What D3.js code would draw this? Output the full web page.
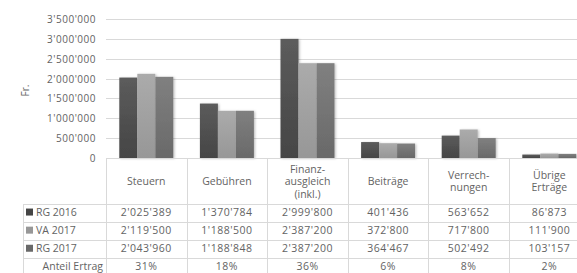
<!DOCTYPE html>
<html lang="de">
<head>
    <meta charset="UTF-8">
    <title>Ertrag</title>
    <script src="https://d3js.org/d3.v7.min.js"></script>
</head>
<body>
<div id='chart'>
    <svg></svg>
</div>
</body>

<style>
    body {
        margin: 0;
        background: #fff;
    }

    #chart {
        width: 577px;
        height: 273px;
        overflow: hidden;
    }

    text {
        font-family: 'Open Sans', sans-serif;
        fill: #636363;
    }

    text.num {
        letter-spacing: 0.5px;
    }

    line.grid, line.table {
        stroke: #d9d9d9;
        stroke-width: 1px;
        shape-rendering: crispEdges;
    }
</style>

<script>
    // Kategorien (Kopfzeile der Tabelle, mehrzeilig)
    const categories = ['Steuern', 'Gebühren', 'Finanzausgleich', 'Beiträge', 'Verrechnungen', 'Übrige Erträge'];
    const categoryLines = [
        ['Steuern'],
        ['Gebühren'],
        ['Finanz-', 'ausgleich', '(inkl.)'],
        ['Beiträge'],
        ['Verrech-', 'nungen'],
        ['Übrige', 'Erträge']
    ];

    const seriesNames = ['RG 2016', 'VA 2017', 'RG 2017'];
    const rg2016 = [2025389, 1370784, 2999800, 401436, 563652, 86873];
    const va2017 = [2119500, 1188500, 2387200, 372800, 717800, 111900];
    const rg2017 = [2043960, 1188848, 2387200, 364467, 502492, 103157];
    const anteilErtrag = ['31%', '18%', '36%', '6%', '8%', '2%'];

    const yTicks = [0, 500000, 1000000, 1500000, 2000000, 2500000, 3000000, 3500000];

    const seriesValues = [rg2016, va2017, rg2017];
    const seriesColors = [
        ['#5c5c5c', '#454545'],
        ['#ababab', '#979797'],
        ['#808080', '#696969']
    ];

    const width = 577;
    const height = 273;

    const plotLeft = 106;
    const colWidth = 80.6;
    const plotRight = plotLeft + colWidth * categories.length;
    const plotTop = 19;
    const plotBottom = 158;

    const tableLeft = 23;
    const headerBottom = 204;
    const rowHeight = 18.1;
    const fontSize = '10.5px';

    const locale = d3.formatLocale({decimal: '.', thousands: "'", grouping: [3], currency: ['', '']});
    const fmt = locale.format(',d');

    const svg = d3.select('svg')
        .attr('width', width)
        .attr('height', height);

    const defs = svg.append('defs');

    seriesColors.forEach((c, i) => {
        const grad = defs.append('linearGradient')
            .attr('id', 'grad' + i)
            .attr('x1', 0).attr('y1', 0)
            .attr('x2', 0).attr('y2', 1);
        grad.append('stop').attr('offset', '0%').attr('stop-color', c[0]);
        grad.append('stop').attr('offset', '100%').attr('stop-color', c[1]);
    });

    const filter = defs.append('filter')
        .attr('id', 'shadow')
        .attr('x', '-20%').attr('y', '-20%')
        .attr('width', '160%').attr('height', '140%');
    filter.append('feDropShadow')
        .attr('dx', 1.2).attr('dy', 0.6)
        .attr('stdDeviation', 0.8)
        .attr('flood-color', '#000')
        .attr('flood-opacity', 0.25);

    const y = d3.scaleLinear()
        .domain([0, 3500000])
        .range([plotBottom, plotTop]);

    const x0 = d3.scaleBand()
        .domain(categories)
        .range([plotLeft, plotRight])
        .padding(0);

    const x1 = d3.scaleBand()
        .domain(seriesNames)
        .range([13.3, colWidth - 13.3])
        .padding(0);

    // Gitterlinien
    svg.append('g')
        .selectAll('line')
        .data(yTicks.filter(d => d > 0))
        .join('line')
        .attr('class', 'grid')
        .attr('x1', plotLeft)
        .attr('x2', plotRight)
        .attr('y1', d => Math.round(y(d)) + 0.5)
        .attr('y2', d => Math.round(y(d)) + 0.5);

    // Y-Achse
    const yAxis = svg.append('g')
        .attr('transform', `translate(${plotLeft - 10},0)`)
        .call(d3.axisLeft(y).tickValues(yTicks).tickFormat(fmt).tickSize(0).tickPadding(0));
    yAxis.select('.domain').remove();
    yAxis.selectAll('text')
        .attr('class', 'num')
        .style('font-size', '10px')
        .attr('fill', null)
        .attr('dy', '0.35em');

    svg.append('text')
        .attr('transform', `translate(29,${(plotTop + plotBottom) / 2 + 2}) rotate(-90)`)
        .attr('text-anchor', 'middle')
        .style('font-size', '10px')
        .text('Fr.');

    // Balken
    const groups = svg.append('g')
        .selectAll('g')
        .data(categories)
        .join('g')
        .attr('transform', d => `translate(${x0(d)},0)`);

    groups.selectAll('rect')
        .data((d, i) => seriesNames.map((s, j) => ({series: s, idx: j, value: seriesValues[j][i]})))
        .join('rect')
        .attr('x', d => x1(d.series))
        .attr('width', x1.bandwidth())
        .attr('y', d => y(d.value))
        .attr('height', d => plotBottom - y(d.value))
        .attr('fill', d => `url(#grad${d.idx})`)
        .attr('filter', 'url(#shadow)');

    // Tabelle
    const table = svg.append('g');
    const nRows = seriesNames.length + 1;
    const tableBottom = headerBottom + rowHeight * (nRows + 1);

    table.append('line')
        .attr('class', 'table')
        .attr('x1', plotLeft).attr('x2', plotRight)
        .attr('y1', plotBottom + 0.5).attr('y2', plotBottom + 0.5);

    d3.range(nRows + 1).forEach(r => {
        const yy = Math.round(headerBottom + r * rowHeight) + 0.5;
        table.append('line')
            .attr('class', 'table')
            .attr('x1', tableLeft).attr('x2', plotRight)
            .attr('y1', yy).attr('y2', yy);
    });

    table.append('line')
        .attr('class', 'table')
        .attr('x1', tableLeft + 0.5).attr('x2', tableLeft + 0.5)
        .attr('y1', headerBottom).attr('y2', tableBottom);

    d3.range(categories.length + 1).forEach(c => {
        const xx = Math.round(plotLeft + c * colWidth) + 0.5;
        table.append('line')
            .attr('class', 'table')
            .attr('x1', xx).attr('x2', xx)
            .attr('y1', plotBottom).attr('y2', tableBottom);
    });

    // Kopfzeile
    const headerMid = (plotBottom + headerBottom) / 2 + 0.5;
    const lineGap = 12.6;
    categories.forEach((cat, i) => {
        const lines = categoryLines[i];
        const t = table.append('text')
            .attr('text-anchor', 'middle')
            .style('font-size', fontSize);
        lines.forEach((ln, k) => {
            t.append('tspan')
                .attr('x', x0(cat) + colWidth / 2)
                .attr('y', headerMid + (k - (lines.length - 1) / 2) * lineGap)
                .attr('dy', '0.35em')
                .text(ln);
        });
    });

    // Datenzeilen
    seriesNames.forEach((s, j) => {
        const cy = headerBottom + j * rowHeight + rowHeight / 2 - 1;
        table.append('rect')
            .attr('x', tableLeft + 3)
            .attr('y', cy - 3.5)
            .attr('width', 7)
            .attr('height', 7)
            .attr('fill', seriesColors[j][1]);
        table.append('text')
            .attr('x', tableLeft + 13)
            .attr('y', cy)
            .attr('dy', '0.35em')
            .style('font-size', fontSize)
            .text(s);
        categories.forEach((cat, i) => {
            table.append('text')
                .attr('class', 'num')
                .attr('x', x0(cat) + colWidth / 2)
                .attr('y', cy)
                .attr('dy', '0.35em')
                .attr('text-anchor', 'middle')
                .style('font-size', fontSize)
                .text(fmt(seriesValues[j][i]));
        });
    });

    const cyA = headerBottom + seriesNames.length * rowHeight + rowHeight / 2 - 1;
    table.append('text')
        .attr('x', plotLeft - 3)
        .attr('y', cyA)
        .attr('dy', '0.35em')
        .attr('text-anchor', 'end')
        .style('font-size', fontSize)
        .text('Anteil Ertrag');
    categories.forEach((cat, i) => {
        table.append('text')
            .attr('class', 'num')
            .attr('x', x0(cat) + colWidth / 2)
            .attr('y', cyA)
            .attr('dy', '0.35em')
            .attr('text-anchor', 'middle')
            .style('font-size', fontSize)
            .text(anteilErtrag[i]);
    });
</script>
</html>
